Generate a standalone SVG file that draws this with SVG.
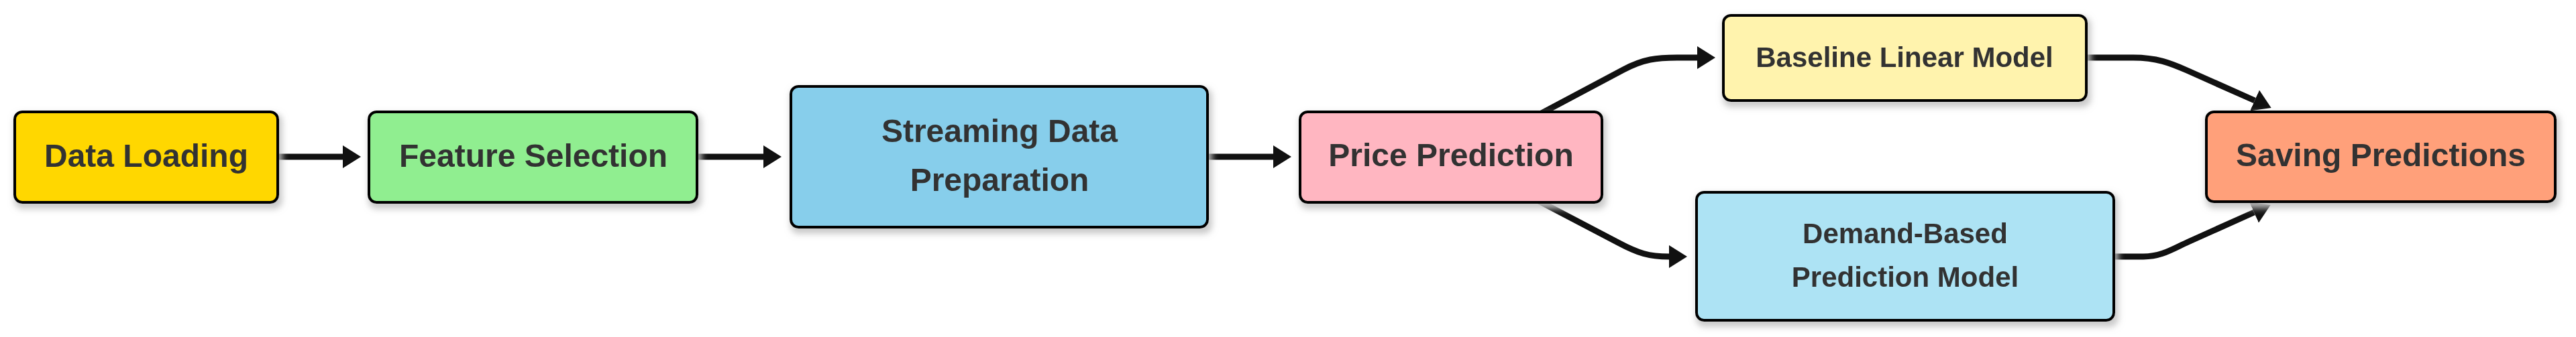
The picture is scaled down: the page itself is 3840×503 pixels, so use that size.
<svg xmlns="http://www.w3.org/2000/svg" width="3840" height="503" viewBox="0 0 3840 503">
<defs>
<style>
.box{stroke:#000;stroke-width:4}
.lbl{font-family:"Liberation Sans",Arial,sans-serif;font-weight:bold;fill:#333;text-anchor:middle}
.big{font-size:48px}
.sm{font-size:42px}
.edge{fill:none;stroke:#111;stroke-width:9;marker-end:url(#arr)}
</style>
<filter id="sh" x="-10%" y="-20%" width="120%" height="150%">
<feMorphology in="SourceAlpha" operator="dilate" radius="2" result="d"/>
<feGaussianBlur in="d" stdDeviation="5" result="b"/>
<feOffset in="b" dx="3" dy="6" result="o"/>
<feFlood flood-color="#c4c4c4" flood-opacity="0.9"/>
<feComposite in2="o" operator="in" result="s"/>
<feMerge><feMergeNode in="s"/><feMergeNode in="SourceGraphic"/></feMerge>
</filter>
<marker id="arr" markerUnits="userSpaceOnUse" markerWidth="28" markerHeight="34" refX="0" refY="17" orient="auto">
<path d="M0,0 L27,17 L0,34 Z" fill="#111"/>
</marker>
</defs>
<rect width="3840" height="503" fill="#fff"/>
<g id="connectors">
<path class="edge" d="M410,234 H511"/>
<path class="edge" d="M1035,234 H1138"/>
<path class="edge" d="M1796,234 H1898"/>
<path class="edge" d="M2296,170 L2420,104 C2450,88 2470,86 2500,86 L2530,86"/>
<path class="edge" d="M2290,298 L2412,362 C2442,378 2458,383 2488,383"/>
<path class="edge" d="M3105,86 L3180,86 C3215,86 3235,94 3260,105 L3361,150"/>
<path class="edge" d="M3145,383 L3195,383 C3222,383 3238,372 3262,361 L3360,317"/>
</g>
<g id="data-loading" filter="url(#sh)">
<rect class="box" x="22" y="167" width="392" height="135" rx="11" fill="#FFD700"/>
<text class="lbl big" x="218" y="249">Data Loading</text>
</g>
<g id="feature-selection" filter="url(#sh)">
<rect class="box" x="550" y="167" width="489" height="135" rx="11" fill="#90EE90"/>
<text class="lbl big" x="795" y="249">Feature Selection</text>
</g>
<g id="streaming-data-preparation" filter="url(#sh)">
<rect class="box" x="1179" y="129" width="621" height="210" rx="11" fill="#87CEEB"/>
<text class="lbl big" x="1490" y="212">Streaming Data</text>
<text class="lbl big" x="1490" y="285">Preparation</text>
</g>
<g id="price-prediction" filter="url(#sh)">
<rect class="box" x="1938" y="167" width="450" height="135" rx="11" fill="#FFB6C1"/>
<text class="lbl big" x="2163" y="248">Price Prediction</text>
</g>
<g id="baseline-linear-model" filter="url(#sh)">
<rect class="box" x="2569" y="23" width="541" height="127" rx="11" fill="#FFF3AD"/>
<text class="lbl sm" x="2839" y="100">Baseline Linear Model</text>
</g>
<g id="demand-based-prediction-model" filter="url(#sh)">
<rect class="box" x="2529" y="287" width="622" height="191" rx="11" fill="#ADE3F4"/>
<text class="lbl sm" x="2840" y="363">Demand-Based</text>
<text class="lbl sm" x="2840" y="428">Prediction Model</text>
</g>
<g id="saving-predictions" filter="url(#sh)">
<rect class="box" x="3289" y="167" width="520" height="134" rx="11" fill="#FFA07A"/>
<text class="lbl big" x="3549" y="248">Saving Predictions</text>
</g>
</svg>
